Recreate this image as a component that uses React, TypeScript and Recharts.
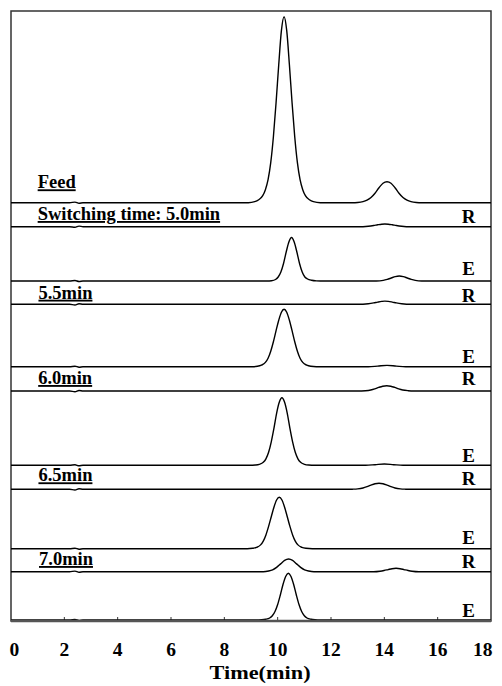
import React from 'react';
import { LineChart, Line, XAxis, YAxis, ReferenceArea, ReferenceLine, ReferenceDot } from 'recharts';

type Pt = [number, number];

// ---------- data ----------
const TIME_TICKS = [0, 2, 4, 6, 8, 10, 12, 14, 16, 18];
const Y_MAX = 610;

const feed: Pt[] = [
  [0, 0], [2.2, 0], [2.4, 0.6], [2.55, -0.6], [2.7, 0],
  [8.9, 0], [9.14, 1], [9.29, 3], [9.44, 7], [9.54, 13], [9.64, 23], [9.74, 40], [9.84, 66], [9.94, 100],
  [10.04, 138], [10.14, 172], [10.24, 186], [10.34, 172], [10.44, 138], [10.54, 100], [10.64, 66],
  [10.74, 40], [10.84, 23], [10.94, 13], [11.04, 7], [11.19, 3], [11.34, 1], [11.6, 0],
  [12.8, 0], [13.0, 0.2], [13.2, 1], [13.35, 2.5], [13.5, 5.2], [13.65, 9.5], [13.8, 15], [13.95, 19.5],
  [14.1, 21], [14.25, 19.5], [14.4, 15], [14.55, 9.5], [14.7, 5.2], [14.85, 2.5], [15.0, 1], [15.2, 0.2],
  [15.4, 0], [18, 0],
];

const r50: Pt[] = [
  [0, 0], [2.2, 0], [2.4, -0.6], [2.55, 0.6], [2.7, 0],
  [13.0, 0], [13.4, 0.5], [13.6, 1.2], [13.75, 1.9], [13.9, 2.5], [14.02, 2.7], [14.15, 2.5], [14.3, 1.9],
  [14.45, 1.2], [14.65, 0.5], [15.0, 0], [18, 0],
];

const e50: Pt[] = [
  [0, 0], [2.2, 0], [2.4, 0.5], [2.55, -0.5], [2.7, 0],
  [9.6, 0], [9.77, 0.3], [9.92, 1.5], [10.02, 4], [10.12, 9], [10.22, 17.5], [10.32, 29], [10.42, 39],
  [10.52, 43.5], [10.62, 39], [10.72, 29], [10.82, 17.5], [10.92, 9], [11.02, 4], [11.12, 2], [11.27, 0.7],
  [11.45, 0.1], [11.6, 0],
  [13.7, 0], [13.96, 0.6], [14.11, 1.6], [14.26, 3], [14.41, 4.4], [14.56, 5], [14.71, 4.4], [14.86, 3],
  [15.01, 1.6], [15.16, 0.6], [15.4, 0], [18, 0],
];

const r55: Pt[] = [
  [0, 0], [2.2, 0], [2.4, -0.7], [2.55, 0.5], [2.7, 0],
  [13.0, 0], [13.4, 0.6], [13.6, 1.4], [13.75, 2.2], [13.9, 2.9], [14.02, 3.2], [14.15, 2.9], [14.3, 2.2],
  [14.45, 1.4], [14.65, 0.6], [15.0, 0], [18, 0],
];

const e55: Pt[] = [
  [0, 0], [2.2, 0], [2.4, 0.5], [2.55, -0.5], [2.7, 0],
  [9.04, 0], [9.24, 0.4], [9.39, 1.5], [9.54, 4.3], [9.64, 8.5], [9.74, 15.5], [9.84, 25], [9.94, 36],
  [10.04, 46.5], [10.14, 54.5], [10.24, 57.4], [10.34, 54.5], [10.44, 46.5], [10.54, 36], [10.64, 25],
  [10.74, 15.5], [10.84, 8.5], [10.94, 4.3], [11.09, 1.5], [11.24, 0.4], [11.45, 0],
  [13.4, 0], [13.75, 0.6], [14.1, 1.3], [14.45, 0.6], [14.8, 0], [18, 0],
];

const r60: Pt[] = [
  [0, 0], [2.2, 0], [2.4, -0.7], [2.55, 0.5], [2.7, 0],
  [13.0, 0], [13.29, 0.3], [13.49, 1], [13.64, 2.1], [13.79, 3.6], [13.94, 4.8], [14.09, 5.3], [14.24, 4.8],
  [14.39, 3.6], [14.54, 2.1], [14.69, 1], [14.89, 0.3], [15.1, 0], [18, 0],
];

const e60: Pt[] = [
  [0, 0], [2.2, 0], [2.4, 0.5], [2.55, -0.5], [2.7, 0],
  [8.96, 0], [9.16, 0.3], [9.31, 1], [9.46, 3], [9.56, 6.5], [9.66, 13], [9.76, 23.5], [9.86, 37],
  [9.96, 52], [10.06, 63], [10.16, 67.6], [10.26, 63], [10.36, 52], [10.46, 37], [10.56, 23.5],
  [10.66, 13], [10.76, 6.5], [10.86, 3], [11.01, 1], [11.16, 0.3], [11.4, 0],
  [13.3, 0], [13.65, 0.6], [14.0, 1.3], [14.35, 0.6], [14.7, 0], [18, 0],
];

const r65: Pt[] = [
  [0, 0], [2.2, 0], [2.4, -0.7], [2.55, 0.5], [2.7, 0],
  [12.6, 0], [12.8, 0.1], [13.0, 0.4], [13.2, 1.3], [13.35, 2.6], [13.5, 4.2], [13.65, 5.5], [13.8, 6],
  [13.95, 5.5], [14.1, 4.2], [14.25, 2.6], [14.4, 1.3], [14.6, 0.4], [14.8, 0.1], [15.0, 0], [18, 0],
];

const e65: Pt[] = [
  [0, 0], [2.2, 0], [2.4, 0.5], [2.55, -0.5], [2.7, 0],
  [8.86, 0], [9.06, 0.4], [9.21, 1.3], [9.36, 3.8], [9.46, 7.6], [9.56, 13.8], [9.66, 22.3], [9.76, 32],
  [9.86, 41.5], [9.96, 48.7], [10.06, 51.4], [10.16, 48.7], [10.26, 41.5], [10.36, 32], [10.46, 22.3],
  [10.56, 13.8], [10.66, 7.6], [10.76, 3.8], [10.91, 1.3], [11.06, 0.4], [11.3, 0], [18, 0],
];

const r70: Pt[] = [
  [0, 0], [2.2, 0], [2.4, 0.6], [2.55, -0.5], [2.7, 0],
  [9.46, 0], [9.66, 0.7], [9.81, 1.9], [9.96, 4.3], [10.11, 7.8], [10.26, 11.3], [10.41, 12.7], [10.56, 11.3],
  [10.71, 7.8], [10.86, 4.3], [11.01, 1.9], [11.16, 0.7], [11.36, 0],
  [13.6, 0], [13.84, 0.5], [13.99, 1.2], [14.14, 2.1], [14.29, 3], [14.44, 3.4], [14.59, 3], [14.74, 2.1],
  [14.89, 1.2], [15.04, 0.5], [15.3, 0], [18, 0],
];

const e70: Pt[] = [
  [0, 0], [2.2, 0], [2.4, 0.5], [2.55, -0.5], [2.7, 0],
  [9.2, 0], [9.4, 0.2], [9.55, 0.7], [9.7, 2], [9.8, 4.2], [9.9, 8.5], [10.0, 15.5], [10.1, 25], [10.2, 35.5],
  [10.3, 43.5], [10.4, 46.7], [10.5, 43.5], [10.6, 35.5], [10.7, 25], [10.8, 15.5], [10.9, 8.5], [11.0, 4.2],
  [11.1, 2], [11.25, 0.7], [11.4, 0.2], [11.6, 0], [18, 0],
];

const traces: Pt[][] = [feed, r50, e50, r55, e55, r60, e60, r65, e65, r70, e70];
// vertical offset of each trace in the stacked plot
const baselines = [418.3, 394.3, 340, 316.7, 254.3, 230, 155.7, 131.7, 72.3, 49.3, 1];

const leftLabels = ['Feed', 'Switching time: 5.0min', '5.5min', '6.0min', '6.5min', '7.0min'];
const sideLabels = ['R', 'E', 'R', 'E', 'R', 'E', 'R', 'E', 'R', 'E'];
const AXIS_TITLE = 'Time(min)';

// ---------- layout ----------
const LEFT_LABEL_POS: Pt[] = [[1.0, 432.7], [1.0, 401], [1.03, 322.3], [1.02, 237], [1.03, 139.7], [1.05, 56]];
const SIDE_LABEL_X = 17.16;
const SIDE_LABEL_Y = [398.3, 346, 319, 257.7, 235.7, 159.3, 136, 77, 52.7, 4.3];

const FONT = "'Liberation Serif', 'Times New Roman', Times, serif";

const TimeTick = (props: any) => {
  const { x, y, payload, index } = props;
  const first = payload.value === TIME_TICKS[0];
  const last = payload.value === TIME_TICKS[TIME_TICKS.length - 1];
  const anchor = first ? 'start' : last ? 'end' : 'middle';
  const tx = first ? x - 1.5 : last ? x + 1.5 : x;
  return (
    <text key={index} x={tx} y={y + 34.7} textAnchor={anchor} fontFamily={FONT} fontWeight="bold" fontSize={19.5} fill="#000">
      {payload.value}
    </text>
  );
};

const AxisTitle = (props: any) => {
  const vb = props.viewBox || { x: 3, y: 613, width: 480, height: 65 };
  return (
    <text
      x={vb.x + vb.width * (9.34 / 18)}
      y={vb.y + 57.5}
      textAnchor="middle"
      fontFamily={FONT}
      fontWeight="bold"
      fontSize={18}
      textLength={101}
      lengthAdjust="spacingAndGlyphs"
      fill="#000"
    >
      {AXIS_TITLE}
    </text>
  );
};

const textShape = (text: string, anchor: 'start' | 'middle', size: number, underline: boolean) => (p: any) => (
  <text
    x={p.cx}
    y={p.cy}
    textAnchor={anchor}
    fontFamily={FONT}
    fontWeight="bold"
    fontSize={size}
    fill="#000"
    style={underline ? { textDecoration: 'underline' } : undefined}
  >
    {text}
  </text>
);

export default function App() {
  return (
    <LineChart width={486} height={678} margin={{ top: 3, right: 3, bottom: 0, left: 3 }}>
      <XAxis
        type="number"
        dataKey="t"
        domain={[0, 18]}
        ticks={TIME_TICKS}
        interval={0}
        allowDataOverflow
        height={65}
        tickSize={0}
        tickMargin={0}
        tickLine={false}
        axisLine={{ stroke: '#555', strokeWidth: 2.5 }}
        tick={<TimeTick />}
        label={{ value: AXIS_TITLE, content: (p: any) => <AxisTitle {...p} /> }}
      />
      <YAxis type="number" domain={[0, Y_MAX]} hide allowDataOverflow />
      <ReferenceArea x1={0} x2={18} y1={0} y2={Y_MAX} fill="none" fillOpacity={0} stroke="#333" strokeWidth={1.5} />
      {TIME_TICKS.slice(1, -1).map((t) => (
        <ReferenceLine key={'tk' + t} segment={[{ x: t, y: 0 }, { x: t, y: 4 }]} stroke="#333" strokeWidth={1} />
      ))}
      {traces.map((tr, i) => (
        <Line
          key={'tr' + i}
          data={tr.map(([t, v]) => ({ t, y: v + baselines[i] }))}
          dataKey="y"
          type="monotone"
          dot={false}
          activeDot={false}
          stroke="#000"
          strokeWidth={1.4}
          isAnimationActive={false}
        />
      ))}
      {leftLabels.map((txt, i) => (
        <ReferenceDot
          key={'ll' + i}
          x={LEFT_LABEL_POS[i][0]}
          y={LEFT_LABEL_POS[i][1]}
          r={0}
          shape={textShape(txt, 'start', 18.5, true)}
        />
      ))}
      {sideLabels.map((txt, i) => (
        <ReferenceDot
          key={'sl' + i}
          x={SIDE_LABEL_X}
          y={SIDE_LABEL_Y[i]}
          r={0}
          shape={textShape(txt, 'middle', 19, false)}
        />
      ))}
    </LineChart>
  );
}
